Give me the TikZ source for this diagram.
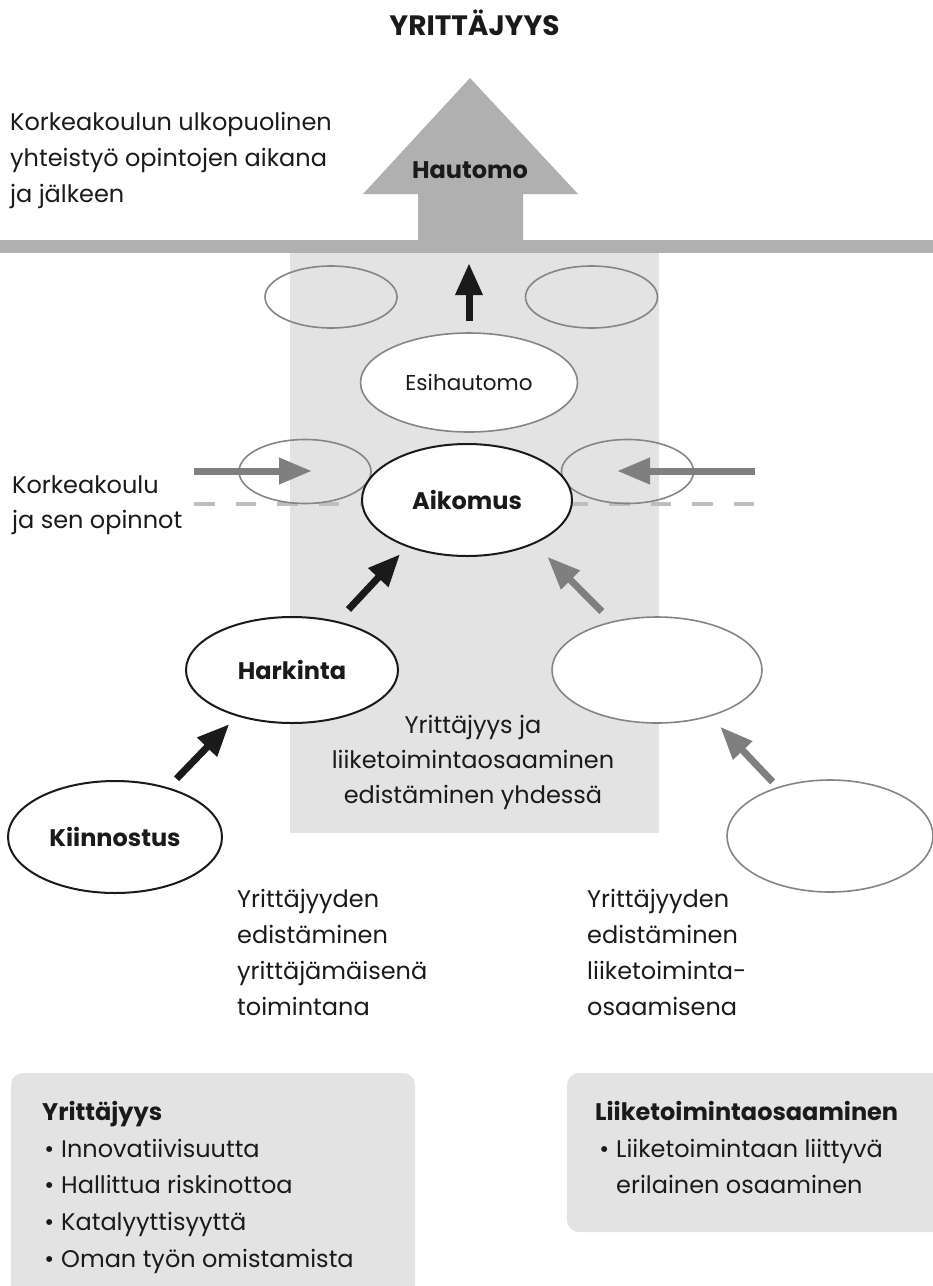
\documentclass[tikz,border=0pt]{standalone}
\usepackage{fontspec}
\setmainfont{Poppins}
\usetikzlibrary{arrows.meta,shapes.geometric}
\definecolor{ink}{HTML}{1A1A1A}
\definecolor{bandgray}{HTML}{B0B0B0}
\definecolor{panelgray}{HTML}{E3E3E3}
\definecolor{ringgray}{HTML}{858585}
\definecolor{arrowgray}{HTML}{7F7F7F}
\definecolor{dashgray}{HTML}{BEBEBE}
\newcommand\bodyfont{\fontsize{24}{36}\selectfont}
\newcommand\labfont{\fontsize{24}{28}\selectfont\bfseries}
\begin{document}
\begin{tikzpicture}[x=1pt,y=-1pt,
  txt/.style={font=\bodyfont, text=ink, inner sep=0pt, anchor=base west},
  ctxt/.style={font=\bodyfont, text=ink, inner sep=0pt, anchor=base},
  bigell/.style={ellipse, draw=ink, line width=2pt, fill=white, inner sep=0pt, font=\labfont, text=ink},
  paleell/.style={ellipse, draw=ringgray, line width=1.6pt, inner sep=0pt},
  whiteell/.style={paleell, fill=white, font=\fontsize{21.5}{26}\selectfont, text=ink},
  sz/.style 2 args={minimum width=#1, minimum height=#2},
  blackarrow/.style={draw=ink, line width=7pt, -{Triangle[length=32pt,width=26pt]}},
  grayarrow/.style={draw=arrowgray, line width=7pt, -{Triangle[length=33pt,width=25pt]}},
  infobox/.style={fill=panelgray, rounded corners=12pt}]
\useasboundingbox (0,0) rectangle (933,1286);
\fill[white] (0,0) rectangle (933,1286);

% background panel and the horizontal band
\node[fill=panelgray, inner sep=0pt, minimum width=369pt, minimum height=580pt] (panel) at (474.5,543) {};
\node[fill=bandgray, inner sep=0pt, minimum width=933pt, minimum height=13pt] (band) at (466.5,246.5) {};
\fill[bandgray] (363,194) -- (470,78) -- (578,194) -- (523,194) -- (523,246) -- (418,246) -- (418,194) -- cycle;
\node[font=\labfont, text=ink, inner sep=0pt, anchor=base] (hautomo) at (470,178) {Hautomo};

% title
\node[font=\fontsize{28}{32}\selectfont\bfseries, text=ink, inner sep=0pt, anchor=base] (title) at (474.5,35) {YRITTÄJYYS};

% side texts
\foreach \t [count=\i] in {Korkeakoulun ulkopuolinen, yhteistyö opintojen aikana, ja jälkeen}
  \node[txt] (outer\i) at (10,{130+36*(\i-1)}) {\t};
\foreach \t [count=\i] in {Korkeakoulu, ja sen opinnot}
  \node[txt] (inner\i) at (12,{493+35*(\i-1)}) {\t};

% dashed boundary
\coordinate (dashL) at (194,504);
\coordinate (dashR) at (756,504);
\draw[dashgray, line width=4.5pt, dash pattern=on 20.5pt off 21pt] (dashL) -- (dashR);

% pale rings
\node[paleell, sz={132pt}{62pt}] (ringTL) at (331,297) {};
\node[paleell, sz={132pt}{62pt}] (ringTR) at (591.5,297) {};
\node[paleell, sz={132pt}{64pt}] (ringML) at (305,471.5) {};
\node[paleell, sz={132pt}{64pt}] (ringMR) at (627.5,471.5) {};

% inflow arrows
\coordinate (inL) at (194,471);
\coordinate (inR) at (755,471);
\draw[grayarrow, shorten >=-7pt] (inL) -- (inL -| ringML.center);
\draw[grayarrow, shorten >=-10.5pt] (inR) -- (inR -| ringMR.center);

% stage ellipses
\node[whiteell, sz={217pt}{99pt}] (esi) at (469,382.5) {Esihautomo};
\node[bigell, sz={210pt}{112pt}] (aikomus) at (467,500) {Aikomus};
\node[bigell, sz={212pt}{106pt}] (harkinta) at (292,670) {Harkinta};
\node[bigell, sz={214pt}{112pt}] (kiinnostus) at (115,837) {Kiinnostus};
\node[whiteell, sz={210pt}{106pt}] (bizUp) at (657,670) {};
\node[whiteell, sz={206pt}{112pt}] (bizLow) at (830,836) {};

% progression arrows
\draw[blackarrow, shorten <=11pt, shorten >=10pt] (esi.north) -- (esi.north |- band.south);
\draw[blackarrow, shorten <=12pt, shorten >=11pt] (kiinnostus.43) -- (harkinta.220);
\draw[blackarrow, shorten <=16pt, shorten >=10pt] (harkinta.47.5) -- (aikomus.218);
\draw[grayarrow, shorten <=7pt, shorten >=14pt] (bizLow.137) -- (bizUp.319);
\draw[grayarrow, shorten <=14pt, shorten >=18pt] (bizUp.133.5) -- (aikomus.327);

% panel caption
\foreach \t [count=\i] in {Yrittäjyys ja, liiketoimintaosaaminen, edistäminen yhdessä}
  \node[ctxt] (joint\i) at (473,{733+35*(\i-1)}) {\t};

% column captions
\foreach \t [count=\i] in {Yrittäjyyden, edistäminen, yrittäjämäisenä, toimintana}
  \node[txt] (colL\i) at (237,{907+36*(\i-1)}) {\t};
\foreach \t [count=\i] in {Yrittäjyyden, edistäminen, liiketoiminta-, osaamisena}
  \node[txt] (colR\i) at (587,{907+36*(\i-1)}) {\t};

% info boxes
\fill[infobox] (11,1073) rectangle (415,1300);
\fill[infobox] (567,1073) rectangle (950,1232);
\node[txt, font=\labfont] (boxLhead) at (42,1120) {Yrittäjyys};
\foreach \t [count=\i] in {Innovatiivisuutta, Hallittua riskinottoa, Katalyyttisyyttä, Oman työn omistamista}
  \node[txt] (boxL\i) at (61,{1157+36.7*(\i-1)}) {\llap{\textbullet\kern7pt}\t};
\node[txt, font=\labfont] (boxRhead) at (595,1120) {Liiketoimintaosaaminen};
\node[txt] (boxR1) at (616,1157) {\llap{\textbullet\kern7pt}Liiketoimintaan liittyvä};
\node[txt] (boxR2) at (616,1193) {erilainen osaaminen};
\end{tikzpicture}
\end{document}
